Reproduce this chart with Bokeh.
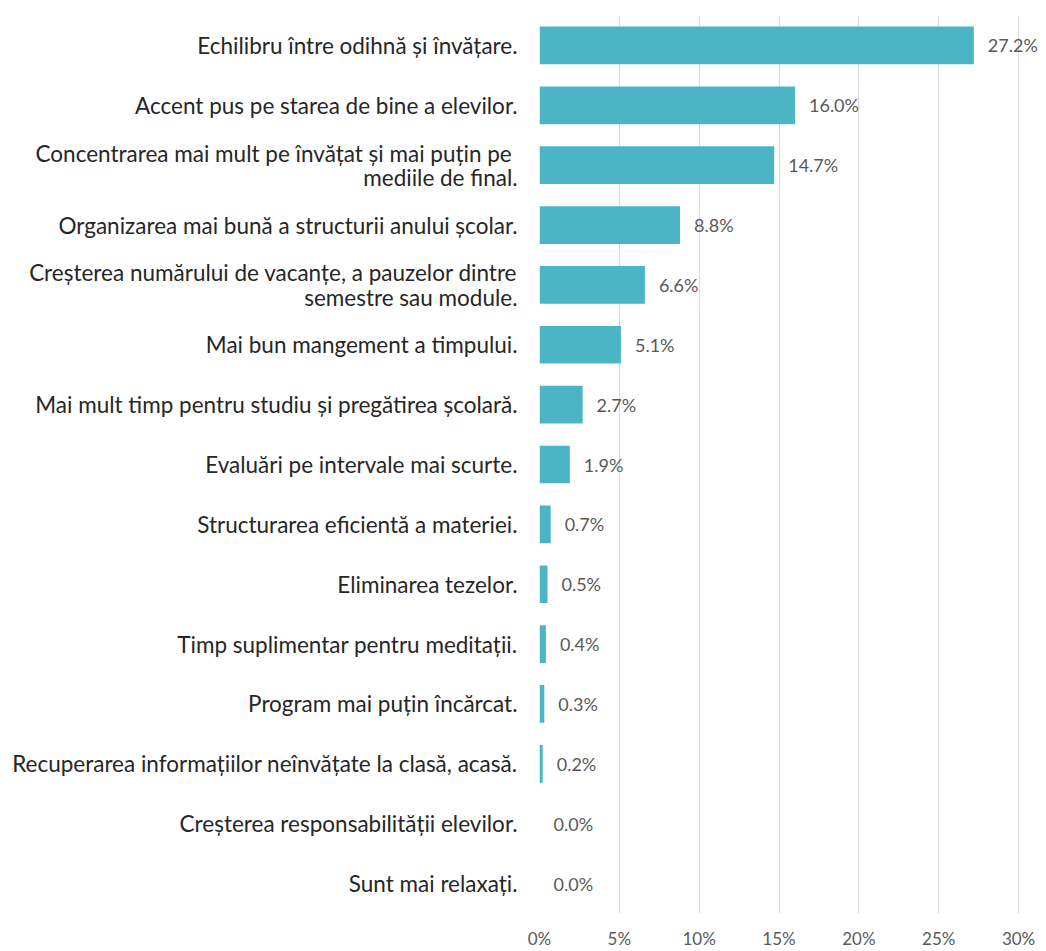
from bokeh.plotting import figure
from bokeh.models import ColumnDataSource, FactorRange, Range1d, FixedTicker, CustomJSTickFormatter
from bokeh.core.properties import value
from bokeh.embed import file_html
from bokeh.resources import INLINE

categories = [
    "Echilibru între odihnă și învățare.",
    "Accent pus pe starea de bine a elevilor.",
    "Concentrarea mai mult pe învățat  și mai puțin pe\nmediile de final.",
    "Organizarea mai bună a structurii anului școlar.",
    "Creșterea numărului de vacanțe, a pauzelor dintre\nsemestre sau module.",
    "Mai bun mangement a timpului.",
    "Mai mult timp pentru studiu și pregătirea școlară.",
    "Evaluări pe intervale mai scurte.",
    "Structurarea eficientă a materiei.",
    "Eliminarea tezelor.",
    "Timp suplimentar pentru meditații.",
    "Program mai puțin încărcat.",
    "Recuperarea informațiilor neînvățate la clasă, acasă.",
    "Creșterea responsabilității elevilor.",
    "Sunt mai relaxați.",
]
values = [27.2, 16.0, 14.7, 8.8, 6.6, 5.1, 2.7, 1.9, 0.7, 0.5, 0.4, 0.3, 0.2, 0.0, 0.0]
tick_values = [0, 5, 10, 15, 20, 25, 30]

FONT = "Lato"
BAR = "#4BB5C6"

src = ColumnDataSource(dict(
    cat=categories,
    val=values,
    lab=[f"{v:.1f}%" for v in values],
))

p = figure(
    width=1046, height=951,
    y_range=FactorRange(factors=list(reversed(categories)), range_padding=0),
    x_range=Range1d(0, 31.75),
    output_backend="svg", toolbar_location=None,
    min_border_left=539, min_border_top=15, min_border_right=0, min_border_bottom=31,
)
p.outline_line_color = None
p.background_fill_color = "white"
p.border_fill_color = "white"

p.hbar(y="cat", right="val", height=0.63, left=0, source=src,
       fill_color=BAR, line_color=None)
p.text(x="val", y="cat", text="lab", source=src, x_offset=14,
       text_align="left", text_baseline="middle",
       text_font=value(FONT), text_font_size="18px", text_color="#595959")

p.xaxis.ticker = FixedTicker(ticks=tick_values)
p.xaxis.formatter = CustomJSTickFormatter(code="return tick + '%';")
p.xaxis.axis_line_color = None
p.xaxis.major_tick_line_color = None
p.xaxis.minor_tick_line_color = None
p.xaxis.major_tick_out = 0
p.xaxis.major_tick_in = 0
p.xaxis.major_label_text_font = FONT
p.xaxis.major_label_text_font_size = "17px"
p.xaxis.major_label_text_color = "#595959"
p.xaxis.major_label_standoff = 14

p.yaxis.axis_line_color = None
p.yaxis.major_tick_line_color = None
p.yaxis.minor_tick_line_color = None
p.yaxis.major_tick_out = 0
p.yaxis.major_tick_in = 0
p.yaxis.major_label_text_font = FONT
p.yaxis.major_label_text_font_size = "22.5px"
p.yaxis.major_label_text_color = "#262626"
p.yaxis.major_label_text_line_height = 0.9
p.yaxis.major_label_standoff = 22

p.xgrid.grid_line_color = "#D9D9D9"
p.xgrid.grid_line_width = 1
p.ygrid.grid_line_color = None

open("out.html", "w").write(file_html(p, INLINE))
